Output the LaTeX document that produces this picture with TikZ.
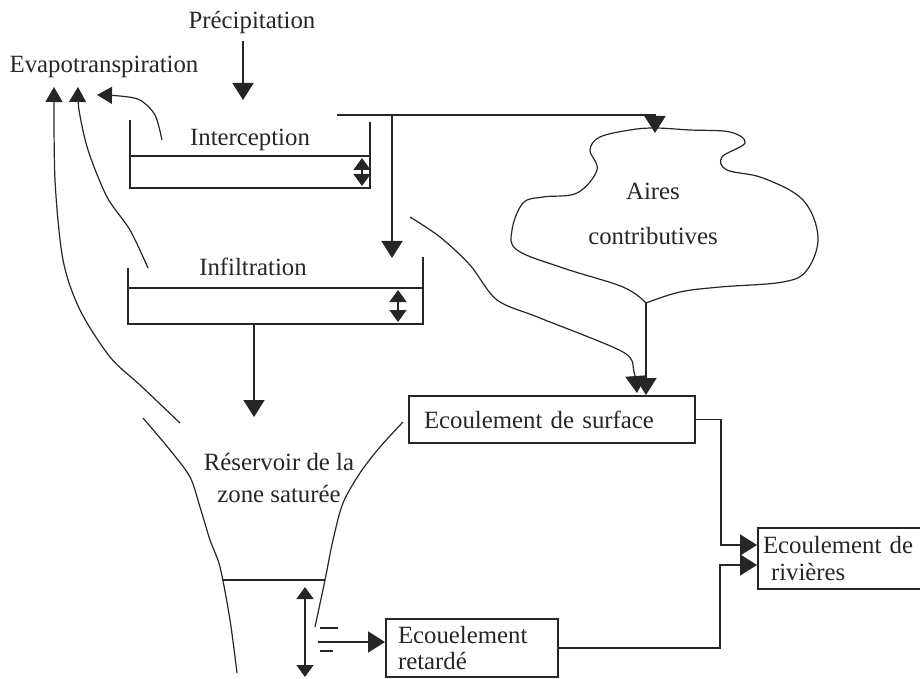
\documentclass[tikz,border=0pt]{standalone}
\usepackage{fontspec}
\setmainfont{Liberation Serif}
\usetikzlibrary{arrows.meta}

\definecolor{ink}{gray}{0.15}
\newcommand{\diagfont}{\fontsize{12.4}{14.5}\selectfont}

\begin{document}
\begin{tikzpicture}[x=0.5pt, y=-0.5pt, color=ink, font=\diagfont,
  wall/.style={line width=0.9pt},
  curve/.style={line width=0.6pt},
  flow/.style={line width=0.9pt, -{Triangle[length=8.5pt,width=10.5pt]}},
  vapour/.style={line width=0.6pt, -{Triangle[length=7.5pt,width=8.5pt]}},
  level/.style={line width=0.8pt, {Triangle[length=6pt,width=8.5pt]}-{Triangle[length=6pt,width=8.5pt]}},
  box/.style={draw, line width=1pt, anchor=north west, align=left, inner ysep=2pt}]
  \useasboundingbox (0,0) rectangle (920,679);

  % Labels
  \node (prec) at (252,23) {Précipitation};
  \node (evapo) at (104,67) {Evapotranspiration};
  \node (intercep) at (250,140) {Interception};
  \node (infil) at (253,267) {Infiltration};
  \node[align=center] (aires) at (653,214) {Aires\\[8pt]contributives};
  \node[align=center, font={\fontsize{12.4}{16}\selectfont}] (reservoir) at (279,478) {Réservoir de la\\zone saturée};

  % Boxes
  \node[box, text width=128pt, inner xsep=7.5pt, minimum height=23.5pt] (surf) at (408,395) {Ecoulement de surface};
  \node[box, text width=74pt, inner xsep=6pt, minimum height=29pt, font={\fontsize{12.4}{12.8}\selectfont}] (retard) at (385,618) {Ecouelement\\retardé};
  \node[box, text width=81.5pt, inner xsep=2.5pt, minimum height=30.5pt, font={\fontsize{12.4}{13.5}\selectfont}] (riv) at (757,527) {Ecoulement de\\\hspace{4pt}rivières};

  % Precipitation
  \coordinate (precend) at (243,100);
  \draw[flow] (prec.south -| precend) -- (precend);

  % Interception tank
  \draw[wall] (130,120) -- (130,188) -- (370,188) -- (370,122);
  \draw[wall] (130,156) -- (370,156);
  \draw[level] (362,158) -- (362,186);

  % Overflow towards the contributing areas and infiltration
  \coordinate (overflow) at (337,115);
  \draw[flow] (overflow) -- (655,115) -- (655,133);
  \draw[flow] (392,115) -- (392,258);

  % Infiltration tank
  \draw[wall] (128,268) -- (128,324) -- (423,324) -- (423,257);
  \draw[wall] (128,288) -- (423,288);
  \draw[level] (398,290) -- (398,322);
  \draw[flow] (254,324) -- (254,417);

  % Evapotranspiration
  \draw[vapour] plot[smooth] coordinates {(180,423) (140,385) (110,357) (80,310) (63,260) (55,180) (54,87)};
  \draw[vapour] plot[smooth] coordinates {(148,268) (130,230) (107,197) (88,150) (79,110) (78,87)};
  \draw[vapour] plot[smooth] coordinates {(162,140) (155,115) (140,100) (120,96) (97,95)};

  % Contributing areas
  \draw[curve] plot[smooth, tension=0.6] coordinates {(646,303) (623,287) (563,268) (517,250) (512,230) (523,203) (543,197) (577,193) (597,170) (590,150) (600,137) (630,130) (655,128) (690,130) (730,132) (745,143) (722,157) (727,170) (763,178) (803,200) (818,237) (807,270) (783,282) (720,287) (680,292) (646,303)};
  \coordinate (cloudfoot) at (646,303);
  \draw[flow] (cloudfoot) -- (cloudfoot |- surf.north);
  \draw[flow, line width=0.6pt] plot[smooth] coordinates {(410,217) (440,237) (470,265) (497,300) (540,318) (623,352) (634,372) (637,393)};

  % Saturated zone reservoir
  \draw[curve] plot[smooth] coordinates {(143,418) (170,450) (190,477) (200,507) (210,540) (220,567) (230,620) (237,673)};
  \draw[curve] plot[smooth] coordinates {(403,422) (380,447) (360,473) (343,503) (333,540) (325,580) (315,627)};
  \draw[wall] (223,580) -- (325,580);
  \draw[level] (305,587) -- (305,677);

  % Delayed outflow
  \draw[curve] (320,628) -- (338,628);
  \draw[curve] (320,651) -- (333,651);
  \coordinate (outlet) at (318,642);
  \draw[flow] (outlet) -- (outlet -| retard.west);

  % River flow
  \draw[flow] (surf.east) -- ++(25,0) |- ([yshift=6.75pt]riv.west);
  \draw[flow] (retard.east) -- ++(161,0) |- ([yshift=-3.25pt]riv.west);
\end{tikzpicture}
\end{document}
